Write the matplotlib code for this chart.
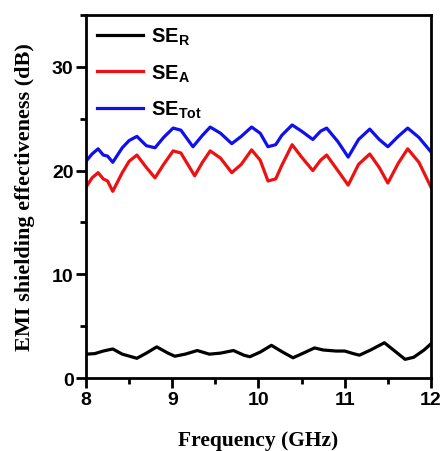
import numpy as np
import matplotlib
matplotlib.use("Agg")
import matplotlib.pyplot as plt
from matplotlib.ticker import MultipleLocator

plt.rcParams['font.family'] = ['Liberation Sans', 'DejaVu Sans']
plt.rcParams['font.weight'] = 'bold'
plt.rcParams['mathtext.fontset'] = 'custom'
plt.rcParams['mathtext.bf'] = 'Liberation Sans:bold'
plt.rcParams['mathtext.rm'] = 'Liberation Sans:bold'

# SE_A (red)
red_x = [8.00, 8.07, 8.14, 8.20, 8.25, 8.31, 8.42, 8.50, 8.59, 8.70, 8.80, 8.90,
         9.01, 9.10, 9.26, 9.35, 9.44, 9.56, 9.69, 9.80, 9.92, 10.02, 10.11, 10.20,
         10.27, 10.39, 10.50, 10.63, 10.72, 10.79, 10.92, 11.04, 11.16, 11.29, 11.40,
         11.50, 11.62, 11.73, 11.86, 12.00]
red_y = [18.4, 19.3, 19.8, 19.2, 19.0, 18.0, 19.8, 20.9, 21.5, 20.3, 19.3, 20.6,
         21.9, 21.7, 19.5, 20.8, 21.9, 21.2, 19.8, 20.6, 22.0, 21.0, 19.0, 19.2,
         20.5, 22.5, 21.3, 20.0, 21.0, 21.5, 20.0, 18.6, 20.6, 21.6, 20.3,
         18.8, 20.7, 22.1, 20.8, 18.4]

# SE_Tot (blue)
blue_x = [8.00, 8.07, 8.14, 8.20, 8.25, 8.31, 8.42, 8.50, 8.59, 8.70, 8.80, 8.90,
          9.01, 9.10, 9.24, 9.35, 9.44, 9.56, 9.69, 9.80, 9.92, 10.02, 10.11, 10.20,
          10.27, 10.39, 10.50, 10.63, 10.72, 10.79, 10.92, 11.04, 11.16, 11.29, 11.40,
          11.50, 11.62, 11.73, 11.86, 12.00]
blue_y = [20.9, 21.6, 22.1, 21.5, 21.4, 20.8, 22.2, 22.9, 23.3, 22.4, 22.2, 23.2,
          24.1, 23.9, 22.3, 23.4, 24.2, 23.6, 22.6, 23.3, 24.2, 23.6, 22.3, 22.5,
          23.4, 24.4, 23.8, 23.0, 23.8, 24.1, 22.8, 21.3, 23.0, 24.0, 23.0,
          22.3, 23.3, 24.1, 23.2, 21.8]

# SE_R (black)
black_x = [8.00, 8.10, 8.20, 8.31, 8.42, 8.59, 8.70, 8.82, 8.95, 9.03, 9.15, 9.29,
           9.43, 9.56, 9.71, 9.83, 9.90, 10.02, 10.15, 10.28, 10.40, 10.52, 10.65,
           10.75, 10.90, 11.00, 11.10, 11.17, 11.30, 11.46, 11.58, 11.70, 11.80,
           11.92, 12.00]
black_y = [2.3, 2.35, 2.6, 2.8, 2.3, 1.9, 2.4, 3.0, 2.4, 2.1, 2.3, 2.65,
           2.3, 2.4, 2.65, 2.2, 2.05, 2.5, 3.15, 2.5, 1.95, 2.4, 2.9,
           2.7, 2.6, 2.6, 2.35, 2.2, 2.7, 3.4, 2.6, 1.8, 2.0,
           2.7, 3.3]

fig = plt.figure(figsize=(4.48, 4.52), dpi=100)
ax = fig.add_axes([0.192, 0.1615, 0.770, 0.803])

lw = 2.3
ax.plot(black_x, black_y, color='black', lw=lw, label=r'$\mathbf{SE_R}$')
ax.plot(red_x, red_y, color='#ee1111', lw=lw, label=r'$\mathbf{SE_A}$')
ax.plot(blue_x, blue_y, color='#1010ee', lw=lw, label=r'$\mathbf{SE_{Tot}}$')

ax.set_xlim(8, 12)
ax.set_ylim(0, 35)
ax.xaxis.set_major_locator(MultipleLocator(1))
ax.xaxis.set_minor_locator(MultipleLocator(0.5))
ax.yaxis.set_major_locator(MultipleLocator(10))
ax.yaxis.set_minor_locator(MultipleLocator(5))
ax.tick_params(which='major', direction='out', length=7, width=2, labelsize=14, pad=2)
ax.tick_params(which='minor', direction='out', length=4, width=2)
for sp in ax.spines.values():
    sp.set_linewidth(2)

ax.set_xlabel('Frequency (GHz)', family='Liberation Serif', fontweight='bold',
              fontsize=15.5, labelpad=16)
ax.set_ylabel('EMI shielding effectiveness (dB)', family='Liberation Serif',
              fontweight='bold', fontsize=16, labelpad=12)

ax.legend(loc='upper left', frameon=False, fontsize=14.5, handlelength=2.3,
          handletextpad=0.4, labelspacing=0.75, borderaxespad=0.15)

fig.savefig('out.png', dpi=100)
